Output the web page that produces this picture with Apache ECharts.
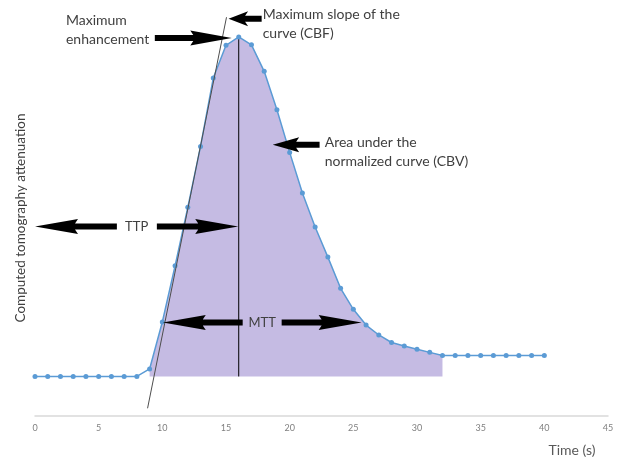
<!DOCTYPE html>
<html><head><meta charset="utf-8">
<script src="https://cdn.jsdelivr.net/npm/echarts@6/dist/echarts.min.js"></script>
<style>html,body{margin:0;padding:0;background:#fff}#c{width:618px;height:459px}</style>
</head><body><div id="c"></div>
<script>
// ---- data ----
const timeSeconds = [0,1,2,3,4,5,6,7,8,9,10,11,12,13,14,15,16,17,18,19,20,21,22,23,24,25,26,27,28,29,30,31,32,33,34,35,36,37,38,39,40];
const attenuation = [10,10,10,10,10,10,10,10,10,11.9,23.8,38.0,52.8,68.2,85.5,93.8,95.9,93.9,87.2,77.5,66.7,56.4,47.8,40.2,32.3,27.0,23.0,20.5,18.6,17.7,16.9,16.1,15.3,15.3,15.3,15.3,15.3,15.3,15.3,15.3,15.3];
const baselineLevel = 10;
const shadedStart = 9;
const shadedEnd = 32;
const peakTime = 16;
const slopeLine = [[8.84,1.95],[15.04,100.9]];
const xTickRange = [0,45,5];
// annotation arrows: [tailX, tailY, tipX, tipY]
const arrowSegments = [
  [9.41,95.65,15.45,95.65],
  [17.8,100.5,15.2,100.5],
  [22.35,68.6,18.67,68.6],
  [6.43,47.95,0,47.95],
  [9.57,47.95,15.96,47.95],
  [16.31,23.66,10.04,23.66],
  [19.37,23.66,25.65,23.66]
];
const annotationPos = [[2.43,97.7],[17.88,99.2],[22.75,66.75],[7.98,47.95],[17.84,23.5]];
const annotationText = ['Maximum\nenhancement','Maximum slope of the\ncurve (CBF)','Area under the\nnormalized curve (CBV)','TTP','MTT'];
const annotationAlign = ['left','left','left','center','center'];
const annotationSize = [14,14,14,13,13];

// ---- derived ----
const curve = timeSeconds.map((t,i)=>[t,attenuation[i]]);
const shaded = curve.filter(d=>d[0]>=shadedStart && d[0]<=shadedEnd);
const peakValue = attenuation[timeSeconds.indexOf(peakTime)];

const chart = echarts.init(document.getElementById('c'),null,{renderer:'canvas'});
const FONT = 'Lato, "Open Sans", sans-serif';
chart.setOption({
  animation:false,
  grid:{left:35,right:10,top:1,bottom:43},
  xAxis:{type:'value',min:xTickRange[0],max:xTickRange[1],interval:xTickRange[2],
    axisLine:{lineStyle:{color:'#d9d9d9',width:1.5}},axisTick:{show:false},splitLine:{show:false},
    axisLabel:{fontSize:9,color:'#808080',margin:8,fontFamily:FONT}},
  yAxis:{type:'value',min:0,max:105,show:false},
  graphic:[
    {type:'text',x:21,y:218,rotation:Math.PI/2,style:{text:'Computed tomography attenuation',font:'13.5px '+FONT,fill:'#404040',align:'center',verticalAlign:'middle'}},
    {type:'text',x:572,y:450,style:{text:'Time (s)',font:'14px '+FONT,fill:'#595959',align:'center',verticalAlign:'middle'}}
  ],
  series:[
    {type:'custom',data:[0],clip:false,z:1,silent:true,
      renderItem(params,api){
        const pts=shaded.map(d=>api.coord(d));
        pts.push(api.coord([shadedEnd,baselineLevel]));
        pts.push(api.coord([shadedStart,baselineLevel]));
        return {type:'polygon',shape:{points:pts},style:{fill:'#c5bbe3'}};
      }},
    {type:'line',data:[[peakTime,baselineLevel],[peakTime,peakValue]],symbol:'none',lineStyle:{color:'#000',width:1},z:2},
    {type:'line',data:curve,symbol:'circle',symbolSize:5,itemStyle:{color:'#5b9bd5'},lineStyle:{color:'#5b9bd5',width:1.5},z:3},
    {type:'line',data:slopeLine,symbol:'none',lineStyle:{color:'#4d4d4d',width:1},z:4,clip:false},
    {type:'custom',data:arrowSegments,encode:{x:[0,2],y:[1,3]},clip:false,z:5,
      renderItem(params,api){
        const p1=api.coord([api.value(0),api.value(1)]);
        const p2=api.coord([api.value(2),api.value(3)]);
        const dx=p2[0]-p1[0],dy=p2[1]-p1[1],L=Math.hypot(dx,dy);
        const ux=dx/L,uy=dy/L,nx=-uy,ny=ux;
        const head=Math.min(40,L*0.5),sw=3,hw=7.5;
        const bx=p2[0]-ux*head,by=p2[1]-uy*head;
        const pts=[
          [p1[0]+nx*sw,p1[1]+ny*sw],[bx+nx*sw,by+ny*sw],[bx-ux*3+nx*hw,by-uy*3+ny*hw],
          [p2[0],p2[1]],
          [bx-ux*3-nx*hw,by-uy*3-ny*hw],[bx-nx*sw,by-ny*sw],[p1[0]-nx*sw,p1[1]-ny*sw]
        ];
        return {type:'polygon',shape:{points:pts},style:{fill:'#000'}};
      }},
    {type:'custom',data:annotationPos,clip:false,z:6,
      renderItem(params,api){
        const p=api.coord([api.value(0),api.value(1)]);
        const i=params.dataIndex;
        return {type:'text',x:p[0],y:p[1],style:{text:annotationText[i],font:annotationSize[i]+'px '+FONT,fill:'#404040',
          align:annotationAlign[i],verticalAlign:'middle',lineHeight:19}};
      }}
  ]
});
</script></body></html>
